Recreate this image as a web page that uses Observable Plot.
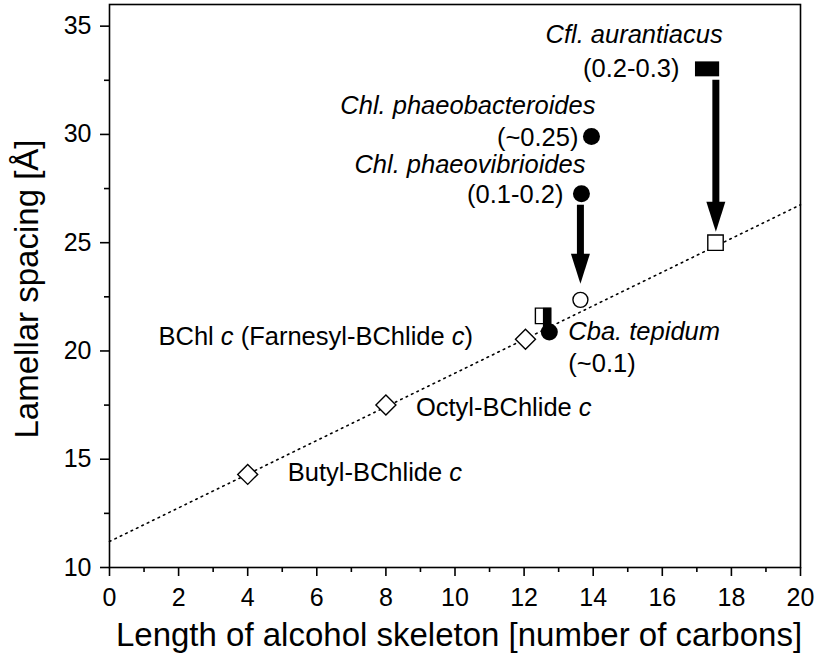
<!DOCTYPE html>
<html><head><meta charset="utf-8">
<script src="https://cdn.jsdelivr.net/npm/d3@7"></script>
<script src="https://cdn.jsdelivr.net/npm/@observablehq/plot@0.6"></script>
<style>body{margin:0;background:#fff} #chart svg{display:block}</style>
</head><body><div id="chart"></div>
<script>
// ---- data ----
const xMajorTicks = [0, 2, 4, 6, 8, 10, 12, 14, 16, 18, 20];
const xMinorTicks = [1, 3, 5, 7, 9, 11, 13, 15, 17, 19];
const yMajorTicks = [10, 15, 20, 25, 30, 35];
const yMinorTicks = [12.5, 17.5, 22.5, 27.5, 32.5];
const xTitle = "Length of alcohol skeleton [number of carbons]";
const yTitle = "Lamellar spacing [Å]";

const esterX = [4, 8, 12.04];
const esterY = [14.3, 17.5, 20.54];
const esterNames = ["Butyl-BChlide _c_", "Octyl-BChlide _c_", "BChl _c_ (Farnesyl-BChlide _c_)"];

const chlX = [13.95, 13.66, 12.73];
const chlY = [29.9, 27.26, 20.88];
const chlSpecies = ["Chl. phaeobacteroides", "Chl. phaeovibrioides", "Cba. tepidum"];
const chlRatio = ["(~0.25)", "(0.1-0.2)", "(~0.1)"];

const openCircleX = [13.63];
const openCircleY = [22.36];
const openSquareX = [12.55, 17.54];
const openSquareY = [21.62, 25.0];

const cflX1 = [16.96], cflX2 = [17.66], cflY1 = [32.66], cflY2 = [33.35];
const cflSpecies = ["Cfl. aurantiacus"];
const cflRatio = ["(0.2-0.3)"];

const arrowX = [17.55, 13.63];
const arrowFrom = [32.5, 26.73];
const arrowTo = [25.5, 23.1];
const cbaBarX = [12.66], cbaBarFrom = [20.88], cbaBarTo = [21.97];

const fitX = [0, 20];
const fitY = [11.2, 26.75];

// ---- helpers ----
const idx = a => d3.range(a.length);
const headSymbol = {draw(ctx) { ctx.moveTo(-9.5, -30); ctx.lineTo(9.5, -30); ctx.lineTo(0, 0); ctx.closePath(); }};
function label(xs, ys, texts, i, opts) {
  return Plot.text([i], {x: j => xs[j], y: j => ys[j], text: j => texts[j], fontSize: 25.5, fill: "black", ...opts});
}

const FONT = "'Liberation Sans', Arial, Helvetica, sans-serif";

const plot = Plot.plot({
  width: 816, height: 656,
  marginLeft: 109, marginRight: 16, marginTop: 4, marginBottom: 89,
  style: {fontFamily: FONT, fontSize: "24px", color: "black", background: "white", overflow: "visible"},
  x: {domain: [0, 20]},
  y: {domain: [10, 36]},
  marks: [
    Plot.line(idx(fitX), {x: i => fitX[i], y: i => fitY[i], stroke: "black", strokeWidth: 1.6, strokeDasharray: "1.6,4.4"}),
    Plot.frame({stroke: "black", strokeWidth: 1.6}),
    Plot.axisX({ticks: xMajorTicks, tickSize: 9, tickPadding: 12, fontSize: 25, label: null, strokeWidth: 1.6}),
    Plot.axisX({ticks: xMinorTicks, tickSize: 5, tickFormat: () => "", label: null, strokeWidth: 1.6}),
    Plot.axisY({ticks: yMajorTicks, tickSize: 9, tickPadding: 9, fontSize: 25, label: null, strokeWidth: 1.6}),
    Plot.axisY({ticks: yMinorTicks, tickSize: 5, tickFormat: () => "", label: null, strokeWidth: 1.6}),
    Plot.text([xTitle], {frameAnchor: "bottom", textAnchor: "middle", dx: 4, dy: 68, fontSize: 33, lineAnchor: "middle", fill: "black"}),
    Plot.text([yTitle], {frameAnchor: "left", textAnchor: "middle", rotate: -90, dx: -82, dy: 3, fontSize: 33, lineAnchor: "middle", fill: "black"}),
    // open symbols
    Plot.dot(idx(esterX), {x: i => esterX[i], y: i => esterY[i], symbol: "diamond2", r: 9, fill: "white", stroke: "black", strokeWidth: 1.4}),
    Plot.dot(idx(openSquareX), {x: i => openSquareX[i], y: i => openSquareY[i], symbol: "square", r: 8.7, fill: "white", stroke: "black", strokeWidth: 1.4}),
    Plot.dot(idx(openCircleX), {x: i => openCircleX[i], y: i => openCircleY[i], r: 7.5, fill: "white", stroke: "black", strokeWidth: 1.4}),
    // Cba bar
    Plot.ruleX(idx(cbaBarX), {x: i => cbaBarX[i], y1: i => cbaBarTo[i], y2: i => cbaBarFrom[i], stroke: "black", strokeWidth: 8}),
    // filled symbols
    Plot.dot(idx(chlX), {x: i => chlX[i], y: i => chlY[i], r: 8.5, fill: "black", stroke: "none"}),
    Plot.rect(idx(cflX1), {x1: i => cflX1[i], x2: i => cflX2[i], y1: i => cflY1[i], y2: i => cflY2[i], fill: "black"}),
    // arrows
    Plot.ruleX(idx(arrowX), {x: i => arrowX[i], y1: i => arrowFrom[i], y2: i => arrowTo[i], stroke: "black", strokeWidth: 7, insetBottom: 24}),
    Plot.dot(idx(arrowX), {x: i => arrowX[i], y: i => arrowTo[i], symbol: headSymbol, r: 5, fill: "black", stroke: "none"}),
    // labels
    label(cflX2, cflY2, cflSpecies, 0, {textAnchor: "end", dx: 3, dy: -27, fontStyle: "italic"}),
    label(cflX1, cflY1, cflRatio, 0, {textAnchor: "end", dx: -16, dy: -8}),
    label(chlX, chlY, chlSpecies, 0, {textAnchor: "end", dx: 4, dy: -31, fontStyle: "italic"}),
    label(chlX, chlY, chlRatio, 0, {textAnchor: "end", dx: -13, dy: 1}),
    label(chlX, chlY, chlSpecies, 1, {textAnchor: "end", dx: 4, dy: -29, fontStyle: "italic"}),
    label(chlX, chlY, chlRatio, 1, {textAnchor: "end", dx: -18, dy: 1}),
    label(chlX, chlY, chlSpecies, 2, {textAnchor: "start", dx: 19, dy: 0, fontStyle: "italic"}),
    label(chlX, chlY, chlRatio, 2, {textAnchor: "start", dx: 19, dy: 32}),
    label(esterX, esterY, esterNames, 0, {textAnchor: "start", dx: 40, dy: -2}),
    label(esterX, esterY, esterNames, 1, {textAnchor: "start", dx: 30, dy: 3}),
    label(esterX, esterY, esterNames, 2, {textAnchor: "start", dx: -367, dy: -2})
  ]
});

// italic markup _c_ -> tspan
plot.querySelectorAll("text").forEach(t => {
  const s = t.textContent;
  if (!s.includes("_")) return;
  t.textContent = "";
  s.split("_").forEach((part, k) => {
    if (!part) return;
    const ts = document.createElementNS("http://www.w3.org/2000/svg", "tspan");
    ts.textContent = part;
    if (k % 2 === 1) ts.setAttribute("font-style", "italic");
    t.appendChild(ts);
  });
});

document.getElementById("chart").appendChild(plot);
</script>
</body></html>
